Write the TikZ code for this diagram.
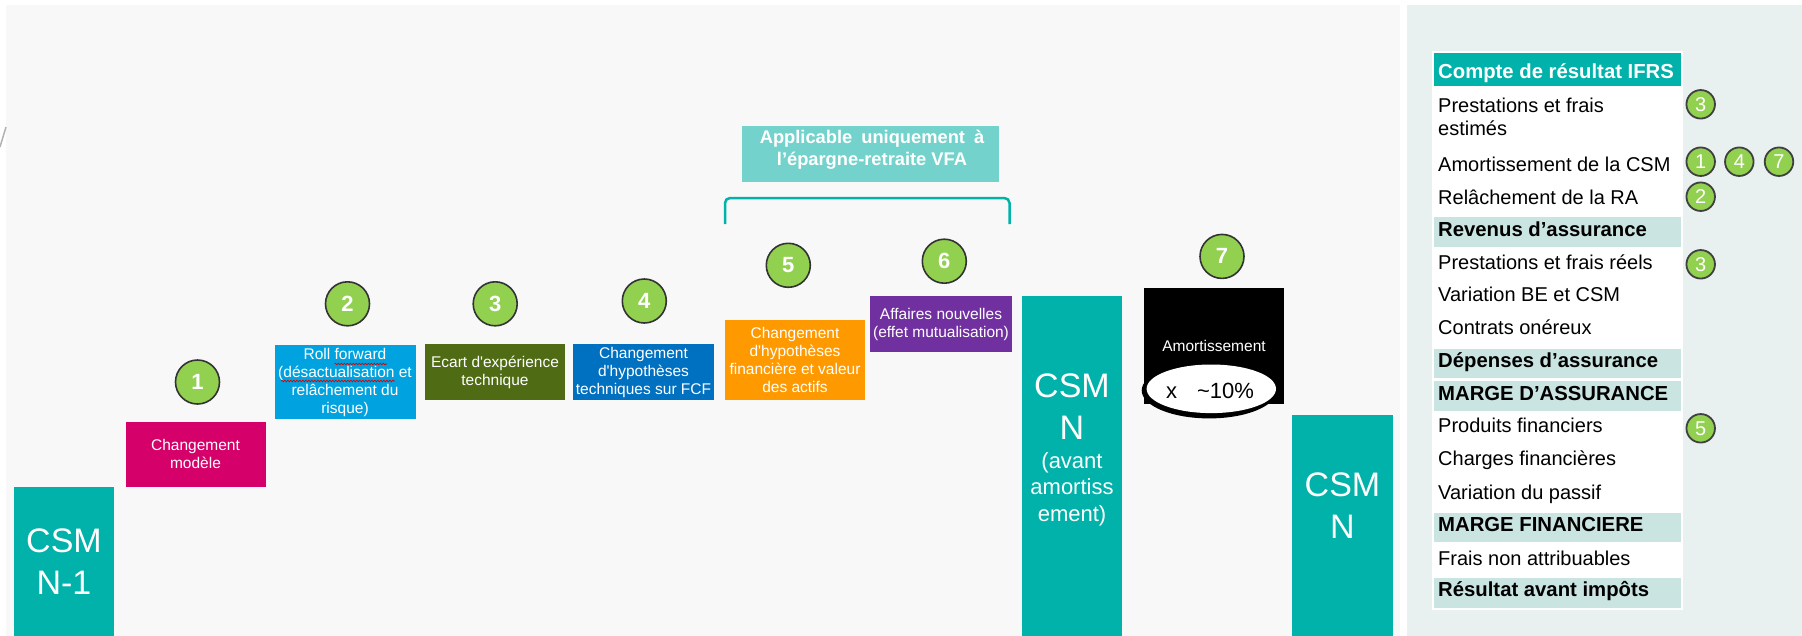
\documentclass[tikz,border=0pt]{standalone}
\usepackage{fontspec}
\setmainfont{Liberation Sans}
\usetikzlibrary{decorations.pathmorphing,shapes.geometric}
\definecolor{bggray}{HTML}{F8F8F8}
\definecolor{panelc}{HTML}{E8F1EF}
\definecolor{csmteal}{HTML}{00B2A9}
\definecolor{bandc}{HTML}{C9E4E1}
\definecolor{cgreen}{HTML}{92D050}
\definecolor{vfac}{HTML}{73D3CC}
\definecolor{cmag}{HTML}{D6006A}
\definecolor{ccyan}{HTML}{00A3E0}
\definecolor{colive}{HTML}{4F6B14}
\definecolor{cblue}{HTML}{0070C0}
\definecolor{corange}{HTML}{FF9900}
\definecolor{cpurple}{HTML}{7030A0}
\newcommand\myfs[2]{\fontsize{#1}{#2}\selectfont}
\tikzset{
 stepbox/.style={inner sep=0pt, align=center, text=white, font=\myfs{15.5}{18}},
 csmbox/.style={fill=csmteal, inner sep=0pt},
 csmtext/.style={text=white, align=center, inner sep=0pt, font=\myfs{34}{42}},
 numc/.style={circle, draw=black!80, line width=1.6pt, fill=cgreen, minimum size=44pt, inner sep=0pt, text=white, font=\bfseries\myfs{22}{22}},
 smallc/.style={circle, draw=black!75, line width=1.8pt, fill=cgreen, minimum size=28.5pt, inner sep=0pt, text=white, font=\myfs{20}{20}},
 bandrow/.style={fill=bandc, minimum width=247pt, inner sep=0pt, anchor=north west},
 rowt/.style={anchor=base west, inner sep=0pt, font=\myfs{20}{24}},
 rowb/.style={anchor=base west, inner sep=0pt, font=\bfseries\myfs{20.3}{24}},
 squig/.style={draw=red!85!black, line width=0.7pt, decorate, decoration={snake, amplitude=0.8pt, segment length=3pt}},
}
\begin{document}
\begin{tikzpicture}[x=1pt,y=-1pt]
\useasboundingbox (0,0) rectangle (1802,635);
\fill[white] (0,0) rectangle (1802,635);
\fill[bggray] (5.7,4.9) rectangle (1400,636);
\fill[panelc] (1406.7,5) rectangle (1802,636);
\draw[gray!60, line width=1.5pt] (0,147) -- (6,127);

% waterfall bars
\node[csmbox, csmtext, minimum width=100pt, minimum height=149pt] (c0) at (64,561.5) {CSM\\N-1};
\node[stepbox, fill=cmag, minimum width=140pt, minimum height=65pt] (b1) at (195.5,454) {Changement\\modèle};
\node[stepbox, fill=ccyan, minimum width=141pt, minimum height=74pt] (b2) at (345,382) {Roll forward\\(désactualisation et\\relâchement du\\risque)};
\node[stepbox, fill=colive, minimum width=140pt, minimum height=56pt] (b3) at (495,372) {Ecart d\textquotesingle expérience\\technique};
\node[stepbox, fill=cblue, minimum width=140.4pt, minimum height=56pt] (b4) at (643.5,372) {Changement\\d\textquotesingle hypothèses\\techniques sur FCF};
\node[stepbox, fill=corange, minimum width=140pt, minimum height=80.6pt] (b5) at (795,360) {Changement\\d\textquotesingle hypothèses\\financière et valeur\\des actifs};
\node[stepbox, fill=cpurple, minimum width=141.7pt, minimum height=56.7pt] (b6) at (941,324) {Affaires nouvelles\\(effet mutualisation)};

\node[csmbox, minimum width=100.6pt, minimum height=340.3pt] (c1) at (1072,465.85) {};
\node[csmtext] (c1a) at (1072,406.5) {CSM\\N};
\node[text=white, align=center, inner sep=0pt, font=\myfs{22}{26.5}] (c1b) at (1072,489) {(avant\\amortiss\\ement)};

\node[stepbox, fill=black, minimum width=139.7pt, minimum height=115.4pt] (b7) at (1214,346) {Amortissement};
\node[ellipse, fill=black, minimum width=135pt, minimum height=56pt, inner sep=0pt] (amtsh) at (1209.2,390.4) {};
\node[ellipse, fill=white, minimum width=129.4pt, minimum height=48.6pt, inner sep=0pt] (amt) at (1211.3,388.8) {};
\node[inner sep=0pt, font=\myfs{22}{22}] (amtt) at (1210,391) {x\hspace{20pt}\textasciitilde10\%};

\node[csmbox, minimum width=101.6pt, minimum height=221pt] (c2) at (1342.5,525.5) {};
\node[csmtext] (c2t) at (1342.5,506) {CSM\\N};

% spell-check squiggles
\draw[squig] (334.5,364) -- (387,364);
\draw[squig] (281,381) -- (395,381);

% number circles
\node[numc] (n1) at (197.5,382) {1};
\node[numc] (n2) at (347.5,303.8) {2};
\node[numc] (n3) at (495.2,303.8) {3};
\node[numc] (n4) at (644.3,301) {4};
\node[numc] (n5) at (788.3,265.3) {5};
\node[numc] (n6) at (944.3,261.2) {6};
\node[numc] (n7) at (1222,256.4) {7};

% VFA box and bracket
\node[fill=vfac, minimum width=257pt, minimum height=56pt, inner sep=0pt] (vfa) at (870.2,154) {};
\node[text=white, align=center, inner sep=0pt, font=\bfseries\myfs{18.3}{22}] (vfat) at (872,150) {Applicable\hspace{9pt}uniquement\hspace{9pt}à\\l’épargne-retraite VFA};
\coordinate (brA) at (725,224);
\coordinate (brB) at (725,198);
\coordinate (brC) at (1009.5,198);
\coordinate (brD) at (1009.5,224);
\draw[csmteal, line width=2.5pt, rounded corners=5pt] (brA) -- (brB) -- (brC) -- (brD);

% IFRS table
\fill[white] (1431.7,50.5) rectangle (1683.3,610);
\node[bandrow, fill=csmteal, minimum height=33.7pt] (hdrb) at (1434,52.3) {};
\node[rowb, text=white] (hdr) at (1438,78.3) {Compte de résultat IFRS};
\node[rowt] (r1a) at (1438,112) {Prestations et frais};
\node[rowt] (r1b) at (1438,135) {estimés};
\node[rowt] (r2) at (1438,171.7) {Amortissement de la CSM};
\node[rowt] (r3) at (1438,204.3) {Relâchement de la RA};
\node[bandrow, minimum height=30pt] (brev) at (1434,216.7) {};
\node[rowb] (trev) at (1438,236) {Revenus d’assurance};
\node[rowt] (r4) at (1438,269.3) {Prestations et frais réels};
\node[rowt] (r5) at (1438,301.7) {Variation BE et CSM};
\node[rowt] (r6) at (1438,334.3) {Contrats onéreux};
\node[bandrow, minimum height=29.4pt] (bdep) at (1434,348.3) {};
\node[rowb] (tdep) at (1438,367.7) {Dépenses d’assurance};
\node[bandrow, minimum height=29.7pt] (bma) at (1434,381) {};
\node[rowb] (tma) at (1438,400) {MARGE D’ASSURANCE};
\node[rowt] (r7) at (1438,432.7) {Produits financiers};
\node[rowt] (r8) at (1438,465.7) {Charges financières};
\node[rowt] (r9) at (1438,499) {Variation du passif};
\node[bandrow, minimum height=29.4pt] (bmf) at (1434,512.3) {};
\node[rowb] (tmf) at (1438,531.7) {MARGE FINANCIERE};
\node[rowt] (r10) at (1438,565) {Frais non attribuables};
\node[bandrow, minimum height=29.6pt] (bres) at (1434,577.7) {};
\node[rowb] (tres) at (1438,596.7) {Résultat avant impôts};

% small circles
\node[smallc] (s3a) at (1700.7,104.3) {3};
\node[smallc] (s1) at (1700.7,161.7) {1};
\node[smallc] (s4) at (1739.3,161.7) {4};
\node[smallc] (s7) at (1779,161.7) {7};
\node[smallc] (s2) at (1700.7,196.7) {2};
\node[smallc] (s3b) at (1700.7,264.3) {3};
\node[smallc] (s5) at (1700.7,428.3) {5};
\end{tikzpicture}
\end{document}
